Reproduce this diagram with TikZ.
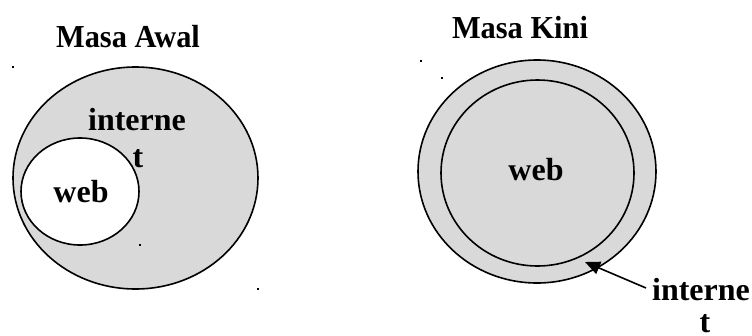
\documentclass[tikz,border=0pt]{standalone}
\usepackage{fontspec}
\setmainfont{Liberation Serif}
\usetikzlibrary{arrows.meta}
\definecolor{fillgray}{RGB}{217,217,217}
\tikzset{
  lbl/.style={inner sep=0pt, anchor=base, font=\fontsize{32}{38}\selectfont\bfseries},
  ring/.style={draw=black, line width=1.6pt},
  stray/.style={fill=black, inner sep=0pt, minimum size=1.6pt, shape=rectangle},
}
\begin{document}
\begin{tikzpicture}[x=1pt,y=-1pt]
\useasboundingbox (0,0) rectangle (752,335);
% left
\node[lbl] (t1) at (128,47) {\scalebox{0.95}[1]{Masa Awal}};
\draw[ring, fill=fillgray] (135.5,178) ellipse [x radius=122.5, y radius=111];
\draw[ring, fill=white] (80,191.5) ellipse [x radius=59, y radius=53.5];
\node[lbl] (w1) at (81,202) {web};
\node[lbl] (i1) at (137,130) {interne};
\node[lbl] (i1t) at (138,167) {t};
\node[stray] (d1) at (13,67) {};
\node[stray] (d2) at (140,245) {};
\node[stray] (d3) at (258,289) {};
% right
\node[lbl] (t2) at (520,38) {\scalebox{0.95}[1]{Masa Kini}};
\draw[ring, fill=fillgray] (537,171.5) ellipse [x radius=119, y radius=111.5];
\draw[ring, fill=fillgray] (537.5,173) ellipse [x radius=96.5, y radius=93];
\node[lbl] (w2) at (536,180) {web};
\node[lbl] (i2) at (701,300) {interne};
\node[lbl] (i2t) at (705,332) {t};
\coordinate (tip) at (585,262);
\coordinate (tail) at (646,288);
\draw[line width=1.6pt, -{Triangle[length=15pt,width=13pt]}] (tail) -- (tip);
\node[stray] (d4) at (421,61) {};
\node[stray] (d5) at (442,78) {};
\end{tikzpicture}
\end{document}
